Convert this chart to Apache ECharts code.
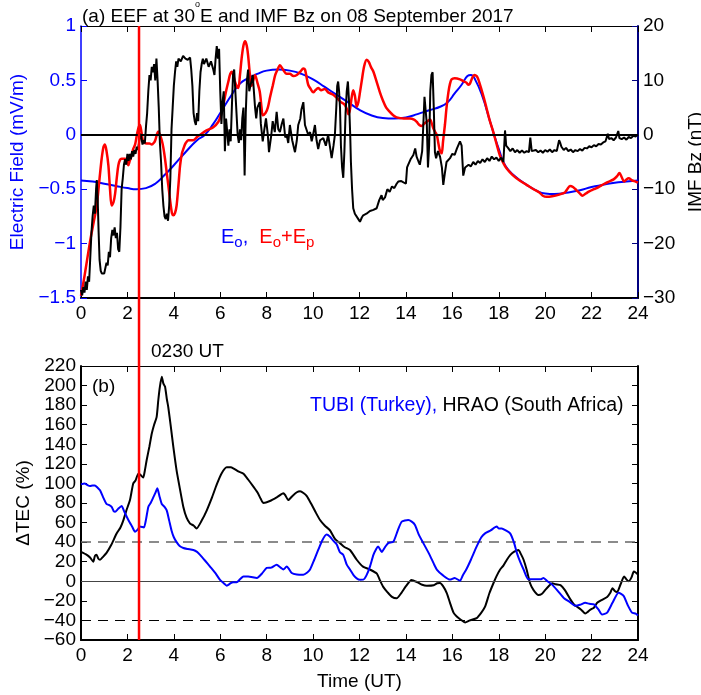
<!DOCTYPE html>
<html>
<head>
<meta charset="utf-8">
<script src="https://cdn.jsdelivr.net/npm/echarts@6/dist/echarts.min.js"></script>
<style>
  html, body { margin: 0; padding: 0; background: #fff; }
  #chart { width: 701px; height: 695px; }
</style>
</head>
<body>
<div id="chart"></div>
<script>
// ---- axis ranges (hours UT, mV/m, nT, %) ----
const timeRange = [0, 24, 2];
const efRange = [-1.5, 1, 0.5];
const bzRange = [-30, 20, 10];
const tecRange = [-60, 220, 20];
const eventTime = 2.5;          // 0230 UT
const tecThresholds = [40, -40];

// ---- panel (a): equatorial electric field, Eo (quiet) ----
const eo = [[0,-0.42],[0.5,-0.43],[1,-0.45],[1.5,-0.47],[2,-0.49],[2.4,-0.5],[2.8,-0.49],[3.2,-0.45],[3.6,-0.37],[4,-0.28],[4.5,-0.16],[5,-0.05],[5.34,0],[5.7,0.1],[6,0.2],[6.5,0.37],[6.85,0.47],[7.2,0.52],[7.6,0.56],[8,0.59],[8.5,0.6],[9,0.59],[9.5,0.56],[10,0.51],[10.5,0.44],[11,0.37],[11.5,0.3],[12,0.23],[12.5,0.18],[13,0.155],[13.5,0.15],[14,0.16],[14.5,0.19],[15,0.225],[15.5,0.26],[15.8,0.3],[16.1,0.38],[16.4,0.46],[16.65,0.54],[16.8,0.55],[17.0,0.5],[17.3,0.35],[17.6,0.14],[17.8,0.0],[18,-0.13],[18.3,-0.29],[18.7,-0.38],[19.2,-0.46],[19.6,-0.51],[20,-0.54],[20.4,-0.545],[21,-0.53],[21.5,-0.51],[22,-0.48],[22.5,-0.46],[23,-0.44],[23.5,-0.43],[24,-0.42]];

// ---- panel (a): Eo + Ep (quiet + prompt penetration) ----
const eoEp = [[0,-1.48],[0.15,-1.3],[0.39,-0.98],[0.55,-0.8],[0.68,-0.65],[0.8,-0.4],[0.89,-0.22],[0.97,-0.11],[1.03,-0.09],[1.1,-0.15],[1.18,-0.28],[1.25,-0.5],[1.32,-0.65],[1.4,-0.62],[1.47,-0.54],[1.55,-0.38],[1.61,-0.28],[1.68,-0.23],[1.75,-0.22],[1.9,-0.22],[1.97,-0.23],[2.04,-0.28],[2.1,-0.24],[2.18,-0.19],[2.25,-0.13],[2.33,-0.09],[2.4,-0.01],[2.47,0.06],[2.54,0.09],[2.6,0.03],[2.68,-0.06],[2.83,-0.08],[2.95,-0.08],[3.05,-0.09],[3.15,-0.07],[3.2,-0.05],[3.28,0.01],[3.33,0.03],[3.4,0.0],[3.48,-0.05],[3.55,-0.12],[3.62,-0.22],[3.7,-0.36],[3.76,-0.46],[3.85,-0.62],[3.92,-0.72],[3.98,-0.74],[4.05,-0.72],[4.12,-0.65],[4.2,-0.46],[4.27,-0.28],[4.35,-0.17],[4.41,-0.13],[4.5,-0.08],[4.63,-0.05],[4.84,-0.05],[5.0,-0.02],[5.13,0.0],[5.41,0.04],[5.7,0.07],[5.92,0.12],[6.03,0.18],[6.13,0.27],[6.25,0.4],[6.35,0.49],[6.43,0.56],[6.5,0.58],[6.57,0.54],[6.63,0.49],[6.72,0.44],[6.78,0.43],[6.85,0.55],[6.92,0.7],[7.0,0.82],[7.07,0.86],[7.14,0.82],[7.2,0.73],[7.28,0.55],[7.35,0.45],[7.42,0.5],[7.5,0.55],[7.6,0.48],[7.7,0.4],[7.78,0.25],[7.83,0.18],[7.95,0.2],[8.05,0.25],[8.15,0.35],[8.26,0.45],[8.37,0.55],[8.47,0.6],[8.57,0.64],[8.7,0.6],[8.86,0.56],[9.0,0.56],[9.15,0.54],[9.3,0.55],[9.45,0.58],[9.58,0.61],[9.65,0.6],[9.72,0.53],[9.79,0.46],[9.9,0.42],[10.01,0.39],[10.1,0.41],[10.22,0.43],[10.35,0.41],[10.5,0.42],[10.65,0.39],[10.85,0.37],[11.02,0.34],[11.2,0.3],[11.35,0.28],[11.45,0.24],[11.52,0.19],[11.58,0.22],[11.66,0.34],[11.73,0.41],[11.8,0.36],[11.88,0.26],[11.95,0.3],[12.02,0.39],[12.1,0.5],[12.2,0.63],[12.31,0.69],[12.4,0.67],[12.5,0.62],[12.6,0.58],[12.75,0.48],[12.88,0.39],[13.0,0.32],[13.15,0.25],[13.31,0.21],[13.45,0.18],[13.6,0.16],[13.9,0.15],[14.17,0.15],[14.35,0.14],[14.46,0.12],[14.58,0.09],[14.68,0.08],[14.78,0.1],[14.9,0.12],[15.04,0.14],[15.12,0.1],[15.18,0.06],[15.25,0.03],[15.33,0.0],[15.4,-0.08],[15.47,-0.15],[15.54,-0.17],[15.6,-0.06],[15.68,0.09],[15.75,0.25],[15.83,0.39],[15.9,0.47],[15.97,0.51],[16.1,0.52],[16.33,0.51],[16.5,0.49],[16.6,0.48],[16.7,0.46],[16.76,0.47],[16.85,0.52],[16.95,0.55],[17.05,0.54],[17.12,0.51],[17.25,0.42],[17.37,0.33],[17.48,0.24],[17.6,0.14],[17.76,0.03],[17.9,-0.08],[18.05,-0.19],[18.2,-0.26],[18.34,-0.31],[18.6,-0.37],[18.9,-0.42],[19.2,-0.46],[19.5,-0.5],[19.75,-0.53],[19.9,-0.56],[20.06,-0.57],[20.3,-0.565],[20.6,-0.55],[20.85,-0.53],[20.95,-0.5],[21.07,-0.47],[21.2,-0.48],[21.35,-0.51],[21.5,-0.54],[21.6,-0.56],[21.75,-0.54],[21.9,-0.52],[22.1,-0.5],[22.3,-0.48],[22.55,-0.45],[22.75,-0.43],[22.95,-0.41],[23.1,-0.38],[23.2,-0.35],[23.3,-0.39],[23.4,-0.43],[23.5,-0.41],[23.6,-0.4],[23.75,-0.42],[23.9,-0.43],[24,-0.44]];

// ---- panel (a): IMF Bz (nT) ----
const imfBz = [[0.0,-28.5],[0.05,-29.5],[0.1,-28],[0.15,-29],[0.2,-27],[0.25,-28.5],[0.3,-26],[0.35,-27],[0.4,-22.5],[0.45,-18],[0.5,-15],[0.55,-13],[0.6,-14.5],[0.65,-10],[0.68,-8.3],[0.72,-12],[0.76,-18],[0.8,-23],[0.85,-25],[0.9,-25.5],[0.95,-25.2],[1.0,-25.5],[1.05,-24.5],[1.1,-23.5],[1.15,-24],[1.2,-21.5],[1.25,-22.5],[1.3,-19],[1.35,-17.5],[1.4,-18.5],[1.45,-17],[1.5,-19],[1.55,-18],[1.6,-21],[1.65,-21.5],[1.7,-17],[1.75,-10],[1.8,-8],[1.85,-5.5],[1.9,-4.5],[1.95,-5.5],[2.0,-3.5],[2.05,-4.8],[2.1,-3.5],[2.15,-4.5],[2.2,-3],[2.25,-4],[2.3,-2.8],[2.35,-3.5],[2.4,-2.2],[2.45,-2.8],[2.5,-1.5],[2.55,0.2],[2.6,-0.5],[2.65,-1.8],[2.7,-1],[2.75,-1.6],[2.8,1.5],[2.85,4],[2.9,8],[2.95,11],[3.0,10],[3.05,12.5],[3.1,11.5],[3.15,13],[3.2,10],[3.25,14],[3.3,10],[3.35,5],[3.4,-1.5],[3.45,-5],[3.5,-10],[3.55,-13],[3.6,-15],[3.65,-15.5],[3.7,-14.5],[3.75,-15.8],[3.8,-13],[3.85,-8],[3.9,1],[3.95,5],[4.0,9],[4.05,11.5],[4.1,13.5],[4.15,12.5],[4.2,14],[4.3,13.5],[4.4,14.5],[4.5,14],[4.6,13.8],[4.7,14.2],[4.75,12],[4.8,9],[4.85,4],[4.9,2.5],[4.95,1.8],[5.0,4],[5.05,2.5],[5.1,8],[5.15,11.5],[5.2,13],[5.25,14],[5.3,13],[5.4,14],[5.5,12.5],[5.6,13.5],[5.7,12],[5.75,11],[5.8,14],[5.85,16.3],[5.9,14],[5.95,15.8],[6.0,8],[6.05,2],[6.1,6],[6.15,8],[6.2,-3],[6.25,3],[6.3,0.5],[6.35,-2],[6.4,1],[6.45,-1.2],[6.5,5],[6.55,11],[6.6,12],[6.65,8],[6.7,4],[6.75,0],[6.8,-1.5],[6.85,1],[6.9,-1],[6.95,3],[7.0,5],[7.05,-7.5],[7.1,4],[7.15,10],[7.2,12],[7.25,8],[7.3,9],[7.4,11],[7.5,5],[7.55,3],[7.6,5],[7.7,6],[7.75,2],[7.83,-1.2],[7.9,1],[7.97,3],[8.05,0],[8.1,-3.2],[8.2,0],[8.26,2.5],[8.35,0.5],[8.43,4.2],[8.5,1],[8.57,0.5],[8.65,2],[8.72,3],[8.8,-0.5],[8.86,0],[8.93,-1.5],[9.0,1.8],[9.1,-1],[9.22,-3.2],[9.3,-1],[9.36,1.8],[9.45,3],[9.5,4.7],[9.58,6],[9.65,1.8],[9.72,2],[9.79,0],[9.87,0.5],[9.94,-1.2],[10.0,0],[10.08,1.8],[10.15,-1],[10.22,-2.6],[10.3,-1],[10.44,-0.6],[10.55,-2],[10.65,0],[10.72,-2],[10.8,-4.3],[10.88,-2],[10.94,0],[11.0,5],[11.04,9],[11.08,9.8],[11.12,8],[11.16,5],[11.2,-2],[11.25,-6],[11.3,-7.9],[11.35,-3],[11.4,4],[11.45,8],[11.5,9.8],[11.55,6],[11.6,0],[11.63,-5],[11.68,-10],[11.73,-13.5],[11.8,-14.5],[11.88,-14.7],[11.95,-15.5],[12.02,-16],[12.1,-15.2],[12.16,-14.8],[12.3,-14.5],[12.45,-14],[12.6,-13.8],[12.74,-13.5],[12.85,-12],[12.95,-11.1],[13.0,-12],[13.1,-11.5],[13.2,-10],[13.3,-10.5],[13.4,-9.5],[13.5,-9.8],[13.6,-9],[13.67,-8.6],[13.8,-8.5],[13.88,-8.6],[14.0,-9],[14.05,-6],[14.1,-5.5],[14.2,-4.5],[14.32,-3.7],[14.4,-2.5],[14.46,-4],[14.55,-5],[14.6,-5.5],[14.7,-3],[14.75,1.8],[14.8,7],[14.85,7.3],[14.9,2],[14.95,-6],[15.0,-2],[15.05,8],[15.1,11],[15.15,11.5],[15.2,5],[15.25,-3.2],[15.3,-4.3],[15.38,-3],[15.47,-4],[15.55,-6],[15.61,-9.2],[15.68,-7],[15.75,-5],[15.9,-4.3],[16.0,-3.5],[16.1,-3.7],[16.2,-2.5],[16.33,-1.2],[16.4,-2],[16.47,-7.5],[16.55,-6],[16.6,-6],[16.7,-5.5],[16.8,-5.8],[16.9,-5],[17.0,-5.5],[17.1,-4.8],[17.2,-5.2],[17.3,-4.5],[17.4,-5],[17.5,-4.3],[17.6,-4.8],[17.7,-4],[17.8,-4.5],[17.9,-4.2],[18.0,-4.8],[18.1,-4.2],[18.2,-5],[18.27,0.8],[18.32,-2],[18.4,-2.4],[18.5,-3],[18.6,-2.5],[18.7,-3.2],[18.8,-2.8],[18.9,-3.3],[19.0,-2.9],[19.1,-3.3],[19.2,-3],[19.3,-3.2],[19.36,-0.5],[19.42,-3],[19.5,-3.3],[19.6,-2.8],[19.7,-3.2],[19.8,-2.9],[19.9,-3.3],[20.0,-2.8],[20.1,-3.1],[20.2,-2.7],[20.3,-3.2],[20.4,-2.8],[20.5,-3],[20.6,-1],[20.65,-1.5],[20.7,-2.2],[20.8,-2.8],[20.9,-2.4],[21.0,-3],[21.1,-2.7],[21.2,-3.2],[21.3,-2.8],[21.4,-3],[21.5,-2.6],[21.6,-2.9],[21.7,-2.4],[21.8,-2.5],[21.9,-2.1],[22.0,-2.3],[22.1,-1.9],[22.2,-2.1],[22.3,-1.7],[22.4,-1.8],[22.5,-1.4],[22.6,-1.2],[22.7,0.2],[22.75,-0.8],[22.85,-0.6],[22.95,-1],[23.05,-0.5],[23.15,0.7],[23.2,-0.6],[23.3,-0.8],[23.4,-0.5],[23.5,-0.9],[23.6,-0.4],[23.7,-0.6],[23.8,-0.2],[23.9,-0.3],[24.0,0]];

// ---- panel (b): TEC deviation (%) ----
const tecHRAO = [[0,30],[0.25,27],[0.4,24],[0.53,20],[0.6,26],[0.67,27],[0.75,23],[0.82,22],[0.95,25],[1.1,29],[1.3,37],[1.54,49],[1.7,55],[1.82,62],[1.95,72],[2.11,83],[2.25,100],[2.35,103],[2.47,110],[2.55,109],[2.68,106],[2.75,113],[2.83,124],[2.95,138],[3.05,151],[3.15,160],[3.26,168],[3.33,185],[3.4,199],[3.48,209],[3.55,202],[3.62,199],[3.7,186],[3.76,178],[3.87,158],[3.98,137],[4.12,113],[4.25,96],[4.41,76],[4.55,65],[4.7,59],[4.85,57],[4.98,54],[5.2,62],[5.41,72],[5.65,86],[5.85,99],[6.05,110],[6.28,116.5],[6.45,116.5],[6.56,115.5],[6.8,112],[7.0,110],[7.2,104],[7.42,97],[7.6,91],[7.75,84],[7.86,80],[8.14,82],[8.45,86],[8.72,90],[8.8,88],[8.93,83],[9.1,87],[9.3,91],[9.44,92],[9.6,90],[9.73,87],[9.9,80],[10.1,71],[10.3,62.6],[10.5,57],[10.73,52],[10.95,43],[11.16,39],[11.35,35],[11.59,32],[11.88,22],[12.15,15],[12.45,12],[12.74,8],[12.9,0],[13.03,-6],[13.2,-11],[13.4,-16],[13.6,-17.4],[13.8,-12],[14.0,-5],[14.24,1.4],[14.5,-1],[14.7,-3.5],[14.9,-4.5],[15.2,-4],[15.35,-2],[15.47,-1.8],[15.6,-5],[15.76,-12],[15.9,-22],[16.05,-32],[16.19,-36],[16.35,-39],[16.55,-42],[16.75,-40],[17.05,-37.6],[17.25,-32],[17.41,-26],[17.6,-12],[17.77,-2],[17.9,5],[18.06,12],[18.2,16],[18.35,22],[18.5,27],[18.65,30],[18.85,32],[18.95,28],[19.07,22],[19.2,12],[19.35,-2],[19.5,-9],[19.71,-14],[19.85,-13],[20.0,-9],[20.15,-5],[20.3,-2],[20.45,-3],[20.66,-4],[20.85,-9],[21.1,-19],[21.25,-24],[21.37,-26],[21.55,-29],[21.73,-33],[21.85,-31],[21.95,-29],[22.1,-27],[22.24,-22],[22.45,-19],[22.67,-16],[22.8,-12],[22.9,-7],[23.0,-10],[23.1,-11],[23.25,-3],[23.4,5],[23.5,2],[23.6,0],[23.72,4],[23.82,10],[23.9,9],[24,7]];

const tecTUBI = [[0,99],[0.15,100],[0.3,98],[0.39,97.4],[0.5,98],[0.6,98],[0.7,96],[0.82,93],[0.95,86],[1.1,79],[1.2,78],[1.32,76],[1.4,72],[1.47,71],[1.6,74],[1.75,77],[1.85,72],[1.97,66],[2.1,60],[2.2,56],[2.33,50.6],[2.45,53],[2.54,56],[2.71,55],[2.8,63],[2.9,76],[3.0,80],[3.12,86],[3.2,90],[3.29,95],[3.38,87],[3.48,79],[3.6,76],[3.7,72],[3.8,62],[3.9,52],[4.0,45],[4.12,40],[4.25,36],[4.41,34],[4.6,33],[4.84,32],[5.0,30],[5.13,27],[5.35,21],[5.56,15],[5.8,8],[5.99,1.4],[6.15,-2],[6.28,-4.5],[6.45,-2],[6.55,-1],[6.71,-1],[6.85,2],[7.0,5],[7.2,5],[7.58,3.3],[7.8,8],[8.0,13.6],[8.2,14],[8.43,17],[8.6,14],[8.72,12],[8.86,15],[8.95,13],[9.08,8.5],[9.3,7],[9.58,6.8],[9.75,9],[9.87,12],[10.05,22],[10.22,32],[10.4,42],[10.58,47.7],[10.73,45.6],[10.85,42],[11.02,37.5],[11.15,30],[11.3,27],[11.45,17],[11.59,12],[11.75,6],[11.88,3],[12.02,1.6],[12.16,1.7],[12.3,6],[12.45,15],[12.6,27],[12.72,33],[12.8,35.6],[12.96,30],[13.1,35],[13.24,39],[13.46,40.5],[13.65,52],[13.82,61],[14.1,62.7],[14.25,61],[14.39,57.6],[14.55,48],[14.75,39],[15.0,28],[15.2,18],[15.33,12],[15.6,6],[15.9,1.7],[16.1,3.4],[16.33,0.6],[16.45,6],[16.6,12],[16.8,22],[17.05,35.6],[17.25,45],[17.41,49],[17.65,52],[17.91,56],[18.0,54],[18.13,54],[18.3,52],[18.49,49],[18.65,40],[18.78,29],[18.92,20],[19.07,12],[19.28,2],[19.64,2],[19.8,2],[19.93,3.4],[20.1,0],[20.3,-3.4],[20.55,-10],[20.8,-17],[21.05,-21],[21.3,-25],[21.5,-24],[21.73,-22],[21.9,-23],[22.1,-23.5],[22.3,-29],[22.45,-34],[22.67,-32],[22.9,-22],[23.16,-11.6],[23.38,-15],[23.55,-24],[23.74,-32],[23.9,-33],[24,-35]];

// ---- styling ----
const FONT = '"Liberation Sans", Arial, Helvetica, sans-serif';
const BLUE = '#0000ff';
const RED = '#ff0000';
const NAVY = '#000080';
const minus = v => String(v).replace('-', '\u2212');

function xAxisDef(grid, pos, withLabels, name) {
  return {
    type: 'value', gridIndex: grid, position: pos,
    min: timeRange[0], max: timeRange[1], interval: timeRange[2],
    name: name || '', nameLocation: 'middle', nameGap: 32,
    nameTextStyle: { fontFamily: FONT, fontSize: 19, color: '#000' },
    axisLine: { onZero: false, lineStyle: { color: '#000', width: pos === 'bottom' ? 2 : 1 } },
    axisTick: { inside: true, length: 6, lineStyle: { color: '#000', width: 1 } },
    axisLabel: { show: withLabels, fontFamily: FONT, fontSize: 19, color: '#000', margin: 6 },
    splitLine: { show: false }
  };
}

function yAxisDef(grid, pos, range, opts) {
  return Object.assign({
    type: 'value', gridIndex: grid, position: pos,
    min: range[0], max: range[1], interval: range[2],
    nameLocation: 'middle',
    axisLine: { onZero: false, lineStyle: { color: opts.lineColor, width: opts.lineWidth } },
    axisTick: { inside: true, length: 6, lineStyle: { color: opts.lineColor, width: 1 } },
    axisLabel: { show: opts.labels, fontFamily: FONT, fontSize: 19, color: opts.labelColor, margin: 5, formatter: minus },
    splitLine: { show: false }
  }, opts.extra || {});
}

const chart = echarts.init(document.getElementById('chart'), null, { renderer: 'canvas' });

chart.setOption({
  animation: false,
  backgroundColor: '#fff',
  grid: [
    { left: 81, right: 63, top: 26, height: 272, containLabel: false, outerBoundsMode: 'none' },
    { left: 81, right: 63, top: 366, height: 274, containLabel: false, outerBoundsMode: 'none' }
  ],
  xAxis: [
    xAxisDef(0, 'bottom', true),
    xAxisDef(0, 'top', false),
    xAxisDef(1, 'bottom', true, 'Time (UT)'),
    xAxisDef(1, 'top', false)
  ],
  yAxis: [
    yAxisDef(0, 'left', efRange, { lineColor: BLUE, lineWidth: 1.5, labels: true, labelColor: BLUE,
      extra: { name: 'Electric Field (mV/m)', nameGap: 46, nameTextStyle: { fontFamily: FONT, fontSize: 19, color: BLUE } } }),
    yAxisDef(0, 'right', bzRange, { lineColor: NAVY, lineWidth: 2, labels: true, labelColor: '#000',
      extra: { name: 'IMF Bz (nT)', nameGap: 45, nameTextStyle: { fontFamily: FONT, fontSize: 19, color: '#000' } } }),
    yAxisDef(1, 'left', tecRange, { lineColor: '#000', lineWidth: 2, labels: true, labelColor: '#000',
      extra: { name: '\u0394TEC (%)', nameGap: 46, nameTextStyle: { fontFamily: FONT, fontSize: 19, color: '#000' } } }),
    yAxisDef(1, 'right', tecRange, { lineColor: '#000', lineWidth: 2, labels: false, labelColor: '#000' })
  ],
  series: [
    {
      name: 'Eo', type: 'line', xAxisIndex: 0, yAxisIndex: 0, data: eo,
      smooth: true, showSymbol: false, lineStyle: { color: BLUE, width: 2 }, z: 3,
      markLine: {
        silent: true, symbol: 'none', label: { show: false },
        lineStyle: { color: '#000', width: 2, type: 'solid' },
        data: [{ yAxis: 0 }]
      }
    },
    {
      name: 'Eo+Ep', type: 'line', xAxisIndex: 0, yAxisIndex: 0, data: eoEp,
      smooth: 0.3, showSymbol: false, lineStyle: { color: RED, width: 2.5 }, z: 4
    },
    {
      name: 'IMF Bz', type: 'line', xAxisIndex: 0, yAxisIndex: 1, data: imfBz,
      showSymbol: false, lineStyle: { color: '#000', width: 2 }, z: 5
    },
    {
      name: 'HRAO', type: 'line', xAxisIndex: 2, yAxisIndex: 2, data: tecHRAO,
      smooth: 0.2, showSymbol: false, lineStyle: { color: '#000', width: 2 }, z: 4,
      markLine: {
        silent: true, symbol: 'none', label: { show: false },
        data: [
          { yAxis: 0, lineStyle: { color: '#444', width: 1, type: 'solid' } },
          { yAxis: tecThresholds[0], lineStyle: { color: '#666', width: 1.5, type: [10, 7] } },
          { yAxis: tecThresholds[1], lineStyle: { color: '#000', width: 1.2, type: [10, 7] } }
        ]
      }
    },
    {
      name: 'TUBI', type: 'line', xAxisIndex: 2, yAxisIndex: 2, data: tecTUBI,
      smooth: 0.2, showSymbol: false, lineStyle: { color: BLUE, width: 2 }, z: 5
    }
  ]
});

// Event marker at 0230 UT across both panels, placed through the axis scales.
const xEvent = chart.convertToPixel({ xAxisIndex: 0 }, eventTime);
const yTop = chart.convertToPixel({ yAxisIndex: 0 }, efRange[1]);
const yBottom = chart.convertToPixel({ yAxisIndex: 2 }, tecRange[0]);

chart.setOption({
  graphic: [
    {
      type: 'line', z: 100,
      shape: { x1: xEvent, y1: yTop, x2: xEvent, y2: yBottom },
      style: { stroke: RED, lineWidth: 2.5 }
    },
    {
      type: 'text', left: 82, top: 0, z: 100,
      style: {
        text: '{a|(a) EEF at 30}{s|o}{a|E and IMF Bz on 08 September 2017}',
        rich: {
          a: { fontFamily: FONT, fontSize: 19, lineHeight: 26, verticalAlign: 'bottom', fill: '#000' },
          s: { fontFamily: FONT, fontSize: 9, lineHeight: 9, verticalAlign: 'top', fill: '#000' }
        }
      }
    },
    {
      type: 'text', left: 221, top: 227, z: 100,
      style: {
        text: '{b|E}{bs|o}{b|,  }{r|E}{rs|o}{r|+E}{rs|p}',
        rich: {
          b: { fontFamily: FONT, fontSize: 20, lineHeight: 23, verticalAlign: 'top', fill: BLUE },
          bs: { fontFamily: FONT, fontSize: 15, lineHeight: 15, verticalAlign: 'bottom', fill: BLUE },
          r: { fontFamily: FONT, fontSize: 20, lineHeight: 23, verticalAlign: 'top', fill: RED },
          rs: { fontFamily: FONT, fontSize: 15, lineHeight: 15, verticalAlign: 'bottom', fill: RED }
        },
        lineHeight: 32
      }
    },
    {
      type: 'text', left: 151, top: 342, z: 100,
      style: { text: '0230 UT', fontFamily: FONT, fontSize: 19, fill: '#000' }
    },
    {
      type: 'text', left: 92, top: 377, z: 100,
      style: { text: '(b)', fontFamily: FONT, fontSize: 19, fill: '#000' }
    },
    {
      type: 'text', left: 310, top: 396, z: 100,
      style: {
        text: '{t|TUBI (Turkey), }{h|HRAO (South Africa)}',
        rich: {
          t: { fontFamily: FONT, fontSize: 19.5, fill: BLUE },
          h: { fontFamily: FONT, fontSize: 19.5, fill: '#000' }
        }
      }
    }
  ]
});
</script>
</body>
</html>
